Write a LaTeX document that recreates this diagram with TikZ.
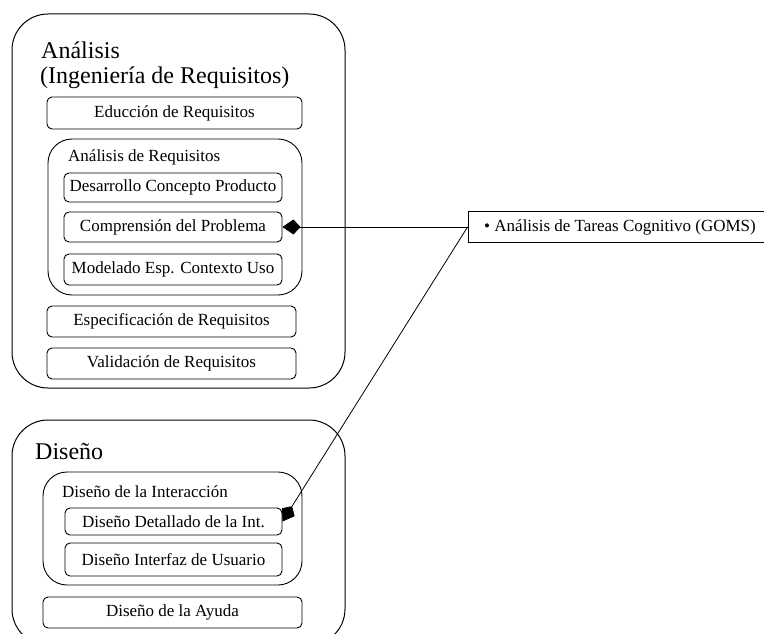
\documentclass[tikz,border=0pt]{standalone}
\usepackage{fontspec}
\setmainfont{Liberation Serif}
\usetikzlibrary{arrows.meta}

\begin{document}
\begin{tikzpicture}[x=1pt,y=-1pt,
  phase/.style={draw, rounded corners=36pt, line width=1pt},
  group/.style={draw, rounded corners=24pt, line width=0.9pt},
  task/.style={draw, rounded corners=5pt, line width=0.9pt, inner sep=0pt, font=\fontsize{17}{19}\selectfont},
  title/.style={anchor=west, inner sep=0pt, font=\fontsize{24}{27}\selectfont},
  grouplabel/.style={anchor=west, inner sep=0pt, font=\fontsize{17}{19}\selectfont},
  tip/.style={-{Kite[length=18pt,width=15pt,inset=7pt]}, line width=0.8pt}]
  \useasboundingbox (0,0) rectangle (764,634);

  \node [phase, minimum width=333pt, minimum height=374pt] (ana) at (178.5,201) {};
  \node [title] (anatitle) at (41,50) {Análisis};
  \node [title] (anasub) at (40,78) {(Ingeniería de Requisitos)};
  \node [task, minimum width=255pt, minimum height=32pt] (educ) at (174.5,113) {Educción de Requisitos};

  \node [group, minimum width=254pt, minimum height=156pt] (anareq) at (175,217) {};
  \node [grouplabel] (anareqlabel) at (68,157) {Análisis de Requisitos};
  \node [task, minimum width=218pt, minimum height=29pt] (desa) at (173,187.5) {Desarrollo Concepto Producto};
  \node [task, minimum width=218pt, minimum height=30pt] (compr) at (173,227) {Comprensión del Problema};
  \node [task, minimum width=218pt, minimum height=31pt] (model) at (173,269.5) {Modelado Esp. Contexto Uso};

  \node [task, minimum width=249pt, minimum height=31pt] (espec) at (171.5,321.5) {Especificación de Requisitos};
  \node [task, minimum width=249pt, minimum height=31pt] (valid) at (171.5,363.5) {Validación de Requisitos};

  \node [phase, minimum width=333pt, minimum height=225pt] (dis) at (178.5,532.5) {};
  \node [title] (distitle) at (35,452) {Diseño};

  \node [group, minimum width=259pt, minimum height=113pt] (disint) at (172.5,528.5) {};
  \node [grouplabel] (disintlabel) at (62,492) {Diseño de la Interacción};
  \node [task, minimum width=217pt, minimum height=27pt] (detall) at (173.5,521.5) {Diseño Detallado de la Int.};
  \node [task, minimum width=217pt, minimum height=33pt] (interf) at (173.5,559.5) {Diseño Interfaz de Usuario};

  \node [task, minimum width=259pt, minimum height=31pt] (ayuda) at (172.5,612.5) {Diseño de la Ayuda};

  \node [task, rounded corners=0pt, minimum width=304pt, minimum height=31pt] (goms) at (620,227) {\textbullet{} Análisis de Tareas Cognitivo (GOMS)};

  \draw [tip] (goms.west) -- (compr.east);
  \draw [tip] (goms.west) -- (detall.east);
\end{tikzpicture}
\end{document}
